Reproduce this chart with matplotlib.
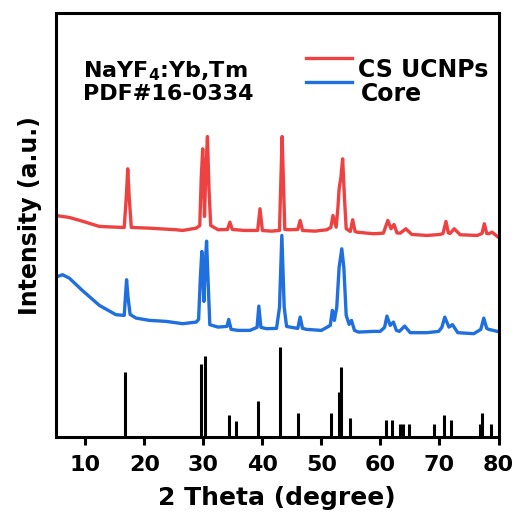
import matplotlib
matplotlib.use("Agg")
import matplotlib.pyplot as plt
from matplotlib.lines import Line2D

plt.rcParams['font.family'] = ['DejaVu Sans']
plt.rcParams['font.weight'] = 'bold'
plt.rcParams['mathtext.default'] = 'bf'

# CS UCNPs pattern (2 theta, intensity a.u.)
cs_x = [5.0, 7.3, 9.5, 12.4, 15.2, 16.6, 16.95, 17.2, 17.45, 17.8, 20.9, 25.4, 26.5,
        28.8, 29.4, 29.65, 29.9, 30.2, 30.45, 30.7, 30.95, 31.25, 32.5, 34.1, 34.5,
        34.9, 37.0, 39.2, 39.6, 40.0, 41.5, 42.9, 43.15, 43.35, 43.55, 43.8, 44.7,
        46.0, 46.4, 46.8, 48.9, 50.9, 51.6, 51.96, 52.5, 52.8, 53.0, 53.3, 53.6,
        53.9, 54.2, 54.9, 55.3, 55.7, 56.0, 58.8, 60.5, 61.25, 61.8, 62.3, 62.8,
        63.35, 64.3, 65.3, 67.9, 70.1, 70.6, 71.1, 71.5, 71.8, 72.5, 73.5, 76.4,
        77.2, 77.6, 78.0, 78.35, 78.9, 79.8]
cs_y = [222, 220, 216.3, 211, 210.3, 210, 240, 268.7, 240, 210, 209.3, 207.7, 207,
        209.3, 212, 260, 288.7, 221, 270, 301, 250, 212, 207.7, 208, 215.3,
        208, 207, 207, 228.7, 207, 206.3, 207, 260, 301, 260, 208, 207.7,
        208, 217, 207, 206.3, 207.7, 210, 222, 210.3, 230, 248.7, 260, 278.7,
        240, 208.7, 206, 217.7, 206, 205.3, 203.7, 204.3, 217, 208.7, 213, 204.5,
        204.3, 208.7, 203, 202, 203, 204, 216, 204.5, 204, 208.7, 202.7, 202,
        204, 213.7, 204, 203.7, 205.3, 201]

# Core pattern
core_x = [5.0, 6.15, 7.3, 9.5, 12.4, 15.2, 16.6, 16.8, 17.0, 17.25, 17.6, 18.6, 20.9,
          23.7, 26.5, 28.8, 29.2, 29.5, 29.75, 30.1, 30.35, 30.55, 30.85, 31.1, 32.5,
          34.0, 34.3, 34.7, 35.9, 37.9, 39.1, 39.4, 39.75, 40.7, 42.4, 42.9, 43.3,
          43.7, 44.1, 44.7, 46.0, 46.4, 46.8, 47.5, 50.0, 51.5, 51.85, 52.2, 52.6,
          53.0, 53.45, 53.8, 54.2, 54.7, 55.1, 55.6, 56.3, 58.8, 59.95, 60.7, 61.1,
          61.65, 62.2, 62.7, 63.2, 64.1, 65.05, 67.9, 69.85, 70.4, 70.9, 71.6, 72.2,
          73.1, 75.8, 77.0, 77.5, 78.0, 78.35, 79.8]
core_y = [160.3, 162.7, 159.3, 147, 132, 122.7, 122, 140, 157.7, 140, 123, 119.3, 117,
          116, 113.7, 115.3, 118, 160, 186, 136, 175, 196.3, 150, 112.7, 110.3,
          111, 118, 108, 107, 107, 110, 131.3, 110, 108.7, 109, 130, 202,
          130, 111, 110.3, 109, 120.3, 109, 108, 107, 112, 127, 117, 130,
          170, 188.7, 170, 122, 113, 117, 107, 105.3, 106, 106, 110, 121.3,
          112, 115.3, 107, 106, 111.3, 104.7, 104.7, 106, 110, 120.3, 110.3, 112.7,
          104.7, 103.7, 108, 119.3, 109, 108, 106]

# PDF#16-0334 reference lines
pdf_pos = [16.7, 29.6, 30.3, 34.4, 35.5, 39.3, 43.0, 46.1, 51.7, 52.9, 53.3, 54.8,
           60.9, 62.0, 63.3, 63.8, 64.9, 69.0, 70.8, 72.0, 76.8, 77.2, 78.7]
pdf_int = [65, 73, 81, 22, 16, 36, 90, 24, 24, 45, 70, 19,
           17, 17, 13, 13, 13, 13, 22, 17, 13, 24, 13]

red = '#EE4242'
blue = '#1F6FDE'

fig = plt.figure(figsize=(5.15, 5.14), dpi=100)
ax = fig.add_axes([0.1082, 0.1492, 0.8598, 0.8249])

ax.plot(cs_x, cs_y, color=red, linewidth=2.4)
ax.plot(core_x, core_y, color=blue, linewidth=2.4)
ax.vlines(pdf_pos, 0, pdf_int, colors='black', linewidth=2.2)

ax.set_xlim(5, 80)
ax.set_ylim(0, 424.3)
ax.set_xticks([10, 20, 30, 40, 50, 60, 70, 80])
ax.set_yticks([])
ax.tick_params(axis='x', direction='out', length=6, width=2.2, labelsize=16, pad=7)
for s in ax.spines.values():
    s.set_linewidth(2.2)

ax.set_xlabel('2 Theta (degree)', fontsize=18, fontweight='bold', labelpad=8)
ax.set_ylabel('Intensity (a.u.)', fontsize=17, fontweight='bold')
ax.yaxis.set_label_coords(-0.031, 0.524)

# sample info
ax.text(0.061, 0.849, 'NaYF$_4$:Yb,Tm', transform=ax.transAxes, fontsize=16,
        fontweight='bold', va='baseline')
ax.text(0.061, 0.7955, 'PDF#16-0334', transform=ax.transAxes, fontsize=16,
        fontweight='bold', va='baseline')

# legend drawn by hand so the lines sit near the top of the labels
ax.add_line(Line2D([0.566, 0.668], [0.894, 0.894], transform=ax.transAxes,
                   color=red, linewidth=2.4))
ax.add_line(Line2D([0.566, 0.668], [0.839, 0.839], transform=ax.transAxes,
                   color=blue, linewidth=2.4))
ax.text(0.683, 0.850, 'CS UCNPs', transform=ax.transAxes, fontsize=17,
        fontweight='bold', va='baseline')
ax.text(0.690, 0.793, 'Core', transform=ax.transAxes, fontsize=17,
        fontweight='bold', va='baseline')

fig.savefig('out.png', dpi=100)
